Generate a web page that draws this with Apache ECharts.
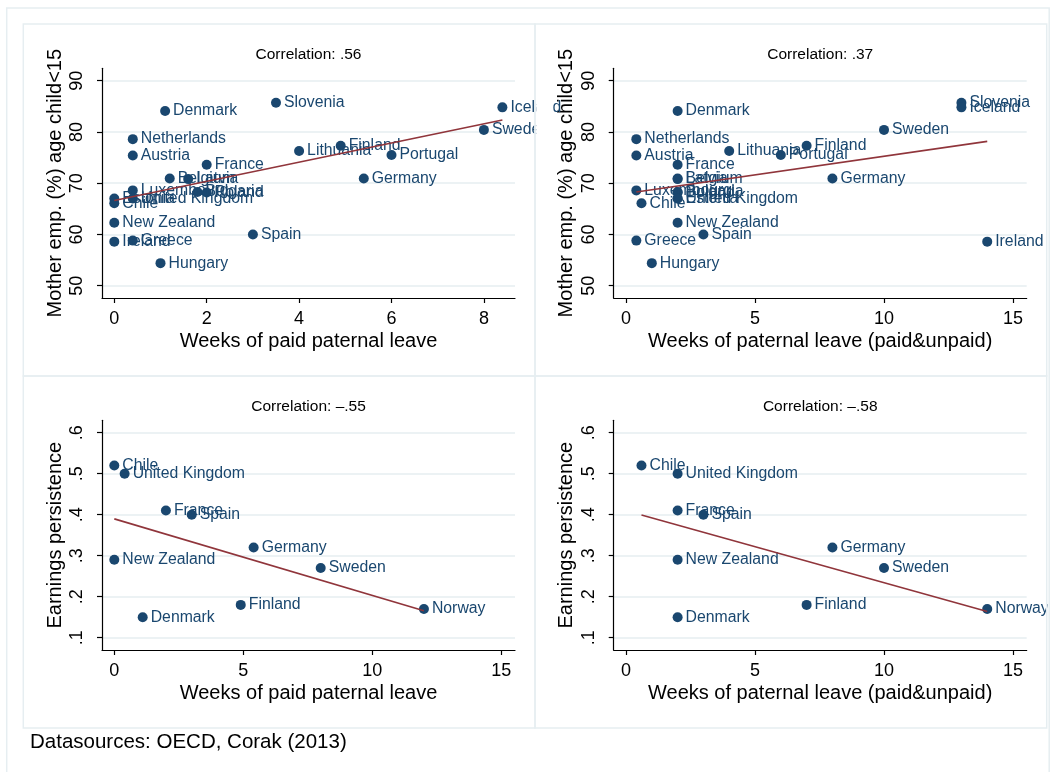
<!DOCTYPE html>
<html><head><meta charset="utf-8">
<script src="https://cdn.jsdelivr.net/npm/echarts@6/dist/echarts.min.js"></script>
<style>html,body{margin:0;padding:0;background:#fff}#c{width:1056px;height:772px}</style>
</head><body><div id="c"></div>
<script>
// ---- data ----
const countries = ['Slovenia','Denmark','Iceland','Sweden','Netherlands','Austria','Lithuania','Finland','Portugal','France','Belgium','Latvia','Germany','Luxembourg','Bulgaria','Poland','Estonia','United Kingdom','Chile','New Zealand','Ireland','Greece','Spain','Hungary'];
const paidWeeks  = [3.5, 1.1, 8.4, 8.0, 0.4, 0.4, 4.0, 4.9, 6.0, 2.0, 1.2, 1.6, 5.4, 0.4, 1.8, 2.0, 0.0, 0.4, 0.0, 0.0, 0.0, 0.4, 3.0, 1.0];
const totalWeeks = [13.0, 2.0, 13.0, 10.0, 0.4, 0.4, 4.0, 7.0, 6.0, 2.0, 2.0, 2.0, 8.0, 0.4, 2.0, 2.0, 2.0, 2.0, 0.6, 2.0, 14.0, 0.4, 3.0, 1.0];
const motherEmp  = [85.7, 84.1, 84.8, 80.4, 78.6, 75.4, 76.3, 77.3, 75.5, 73.6, 70.9, 70.8, 70.9, 68.6, 68.3, 68.2, 67.0, 67.0, 66.1, 62.3, 58.6, 58.8, 60.0, 54.4];

const countries2  = ['Chile','United Kingdom','France','Spain','Germany','New Zealand','Sweden','Finland','Denmark','Norway'];
const paidWeeks2  = [0.0, 0.4, 2.0, 3.0, 5.4, 0.0, 8.0, 4.9, 1.1, 12.0];
const totalWeeks2 = [0.6, 2.0, 2.0, 3.0, 8.0, 2.0, 10.0, 7.0, 2.0, 14.0];
const persistence = [0.52, 0.50, 0.41, 0.40, 0.32, 0.29, 0.27, 0.18, 0.15, 0.17];

const panelTitles = ['Correlation: .56', 'Correlation: .37', 'Correlation: \u2013.55', 'Correlation: \u2013.58'];
const xTitles = ['Weeks of paid paternal leave', 'Weeks of paternal leave (paid&unpaid)', 'Weeks of paid paternal leave', 'Weeks of paternal leave (paid&unpaid)'];
const yTitles = ['Mother emp. (%) age child<15', 'Mother emp. (%) age child<15', 'Earnings persistence', 'Earnings persistence'];
const xTicksPaid = [0, 2, 4, 6, 8];
const xTicksWide = [0, 5, 10, 15];
const yTicksEmp  = [50, 60, 70, 80, 90];
const yTicksPers = [0.1, 0.2, 0.3, 0.4, 0.5, 0.6];
const footnote = 'Datasources: OECD, Corak (2013)';

// ---- styling / layout ----
const NAVY = '#1a476f', MAROON = '#90353b', GRIDC = '#e6eef1', FRAMEC = '#e6eef1';
const FONT = '"Liberation Sans", Arial, Helvetica, sans-serif';
const PX = 511.7, PY = 352;
const offsets = [[0, 0], [PX, 0], [0, PY], [PX, PY]];
const G = { left: 102, top: 68.3, width: 413, height: 229.7 };

const panels = [
  { names: countries,  xs: paidWeeks,   ys: motherEmp,   xTicks: xTicksPaid, xMin: -0.266, xMax: 8.673, yTicks: yTicksEmp,  yMin: 47.6, yMax: 92.42 },
  { names: countries,  xs: totalWeeks,  ys: motherEmp,   xTicks: xTicksWide, xMin: -0.477, xMax: 15.53, yTicks: yTicksEmp,  yMin: 47.6, yMax: 92.42 },
  { names: countries2, xs: paidWeeks2,  ys: persistence, xTicks: xTicksWide, xMin: -0.477, xMax: 15.53, yTicks: yTicksPers, yMin: 0.07, yMax: 0.6302 },
  { names: countries2, xs: totalWeeks2, ys: persistence, xTicks: xTicksWide, xMin: -0.477, xMax: 15.53, yTicks: yTicksPers, yMin: 0.07, yMax: 0.6302 }
];

function olsLine(xs, ys) {
  const n = xs.length;
  const mx = xs.reduce((a, b) => a + b, 0) / n;
  const my = ys.reduce((a, b) => a + b, 0) / n;
  let sxy = 0, sxx = 0;
  for (let i = 0; i < n; i++) { sxy += (xs[i] - mx) * (ys[i] - my); sxx += (xs[i] - mx) ** 2; }
  const b = sxy / sxx, a = my - b * mx;
  const x0 = Math.min(...xs), x1 = Math.max(...xs);
  return [[x0, a + b * x0], [x1, a + b * x1]];
}

const grids = [], xAxes = [], yAxes = [], series = [], graphics = [];
panels.forEach((p, i) => {
  const [dx, dy] = offsets[i];
  grids.push({ left: G.left + dx, top: G.top + dy, width: G.width, height: G.height });
  xAxes.push({
    gridIndex: i, type: 'value', min: p.xMin, max: p.xMax,
    axisLine: { show: true, onZero: false, lineStyle: { color: '#000', width: 1.2 } },
    axisTick: { show: true, inside: false, length: 5, customValues: p.xTicks, lineStyle: { color: '#000', width: 1.2 } },
    axisLabel: { customValues: p.xTicks, fontSize: 18, color: '#000', fontFamily: FONT, margin: 12 },
    splitLine: { show: false },
    name: xTitles[i], nameLocation: 'middle', nameGap: 33,
    nameTextStyle: { fontSize: 20, color: '#000', fontFamily: FONT }
  });
  yAxes.push({
    gridIndex: i, type: 'value', min: p.yMin, max: p.yMax,
    axisLine: { show: true, onZero: false, lineStyle: { color: '#000', width: 1.2 } },
    axisTick: { show: true, inside: false, length: 5, customValues: p.yTicks, lineStyle: { color: '#000', width: 1.2 } },
    axisLabel: { customValues: p.yTicks, fontSize: 18, color: '#000', fontFamily: FONT, rotate: 90, margin: 16,
      formatter: v => String(v).replace(/^0\./, '.') },
    splitLine: { show: true, lineStyle: { color: GRIDC, width: 1.5 } },
    name: yTitles[i], nameLocation: 'middle', nameGap: 37,
    nameTextStyle: { fontSize: 20, color: '#000', fontFamily: FONT }
  });
  series.push({
    type: 'scatter', xAxisIndex: i, yAxisIndex: i, symbol: 'circle', symbolSize: 10,
    itemStyle: { color: NAVY, opacity: 1 },
    data: p.names.map((n, k) => ({ name: n, value: [p.xs[k], p.ys[k]] })),
    label: { show: true, position: 'right', distance: 3, formatter: '{b}', color: NAVY, fontSize: 15.8, fontFamily: FONT },
    emphasis: { disabled: true }, z: 3
  });
  series.push({
    type: 'line', xAxisIndex: i, yAxisIndex: i, showSymbol: false, symbol: 'none',
    data: olsLine(p.xs, p.ys), lineStyle: { color: MAROON, width: 1.6 },
    emphasis: { disabled: true }, z: 4, animation: false
  });
  graphics.push({ type: 'text', x: G.left + G.width / 2 + dx, y: 54.5 + dy, z: 100,
    style: { text: panelTitles[i], fill: '#000', font: '15.5px ' + FONT, textAlign: 'center', textVerticalAlign: 'middle' } });
});
// masks: labels are clipped at each sub-graph's border, as in the reference
graphics.push({ type: 'rect', z: 100, silent: true, shape: { x: 536.2, y: 24, width: 17, height: 704 }, style: { fill: '#fff' } });
graphics.push({ type: 'rect', z: 100, silent: true, shape: { x: 1047.6, y: 0, width: 9, height: 772 }, style: { fill: '#fff' } });
// frames
offsets.forEach(([dx, dy]) => {
  graphics.push({ type: 'rect', z: 101, silent: true, shape: { x: 23.3 + dx, y: 24 + dy, width: PX, height: PY }, style: { fill: null, stroke: FRAMEC, lineWidth: 1.5 } });
});
graphics.push({ type: 'rect', z: 101, silent: true, shape: { x: 6.7, y: 8, width: 1042.5, height: 775 }, style: { fill: null, stroke: FRAMEC, lineWidth: 1.5 } });
graphics.push({ type: 'text', x: 30, y: 742, z: 101, style: { text: footnote, fill: '#000', font: '20.5px ' + FONT, textAlign: 'left', textVerticalAlign: 'middle' } });

const chart = echarts.init(document.getElementById('c'), null, { renderer: 'canvas' });
chart.setOption({
  animation: false,
  backgroundColor: '#fff',
  grid: grids, xAxis: xAxes, yAxis: yAxes, series: series, graphic: graphics
});
</script></body></html>
